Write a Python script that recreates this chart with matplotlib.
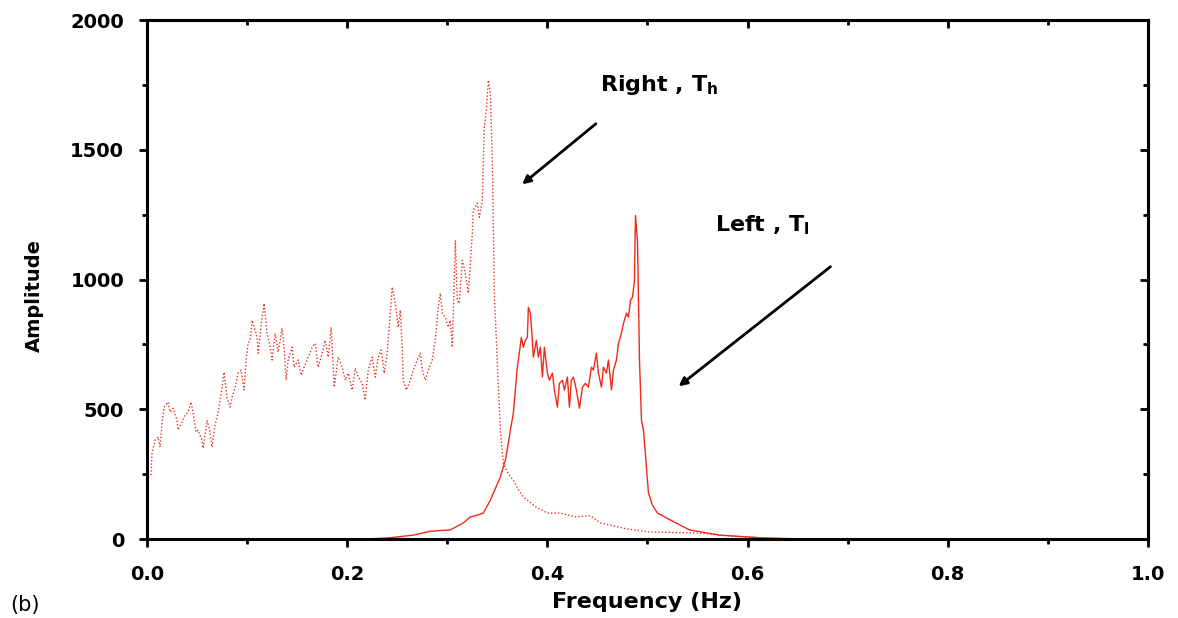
import numpy as np
import matplotlib.pyplot as plt
from matplotlib.ticker import MultipleLocator

plt.rcParams['font.family'] = ['DejaVu Sans']

# Right side, T_h (dotted trace)
freq_right = [0.004, 0.005, 0.008, 0.011, 0.013, 0.015, 0.017, 0.021, 0.023, 0.026,
              0.030, 0.031, 0.035, 0.038, 0.041, 0.044, 0.046, 0.049, 0.051, 0.055,
              0.056, 0.060, 0.063, 0.065, 0.068, 0.071, 0.073, 0.075, 0.077, 0.080,
              0.083, 0.085, 0.088, 0.091, 0.094, 0.097, 0.099, 0.101, 0.103, 0.105,
              0.110, 0.111, 0.115, 0.117, 0.120, 0.123, 0.125, 0.128, 0.131, 0.135,
              0.137, 0.139, 0.141, 0.145, 0.147, 0.151, 0.154, 0.157, 0.161, 0.165,
              0.168, 0.171, 0.175, 0.178, 0.181, 0.184, 0.187, 0.191, 0.195, 0.198,
              0.201, 0.205, 0.208, 0.211, 0.215, 0.218, 0.221, 0.225, 0.228, 0.231,
              0.234, 0.237, 0.240, 0.242, 0.245, 0.248, 0.251, 0.253, 0.255, 0.256,
              0.259, 0.262, 0.266, 0.270, 0.273, 0.275, 0.278, 0.281, 0.285, 0.288,
              0.291, 0.293, 0.295, 0.298, 0.301, 0.303, 0.305, 0.307, 0.308, 0.310,
              0.312, 0.315, 0.318, 0.321, 0.325, 0.326, 0.330, 0.332, 0.335, 0.336,
              0.337, 0.339, 0.341, 0.343, 0.345, 0.346, 0.347, 0.350, 0.353, 0.356,
              0.361, 0.366, 0.371, 0.376, 0.388, 0.400, 0.413, 0.428, 0.443, 0.453,
              0.478, 0.502, 0.527, 0.552, 0.582, 0.612, 0.652, 1.000]
amp_right = [246, 331, 381, 393, 354, 447, 508, 528, 489, 504,
             458, 420, 451, 478, 489, 528, 489, 412, 420, 381,
             350, 458, 412, 354, 439, 485, 535, 585, 643, 543,
             508, 547, 585, 639, 651, 574, 690, 754, 766, 843,
             777, 716, 855, 908, 793, 739, 690, 793, 720, 812,
             739, 612, 690, 739, 662, 690, 631, 662, 701, 739,
             754, 662, 716, 766, 701, 816, 585, 701, 662, 612,
             639, 574, 658, 624, 600, 535, 651, 701, 624, 701,
             728, 639, 716, 816, 971, 908, 816, 882, 739, 612,
             574, 600, 651, 690, 716, 651, 612, 651, 690, 766,
             893, 947, 870, 855, 816, 843, 739, 997, 1151, 921,
             908, 1074, 1024, 947, 1178, 1267, 1294, 1240, 1305, 1459,
             1587, 1652, 1768, 1718, 1459, 1201, 947, 677, 420, 292,
             250, 227, 190, 162, 125, 100, 100, 85, 90, 62,
             40, 27, 25, 23, 12, 5, 0, 0]

# Left side, T_l (solid trace)
freq_left = [0.000, 0.220, 0.243, 0.266, 0.283, 0.303, 0.316, 0.323, 0.330, 0.336,
             0.343, 0.353, 0.358, 0.361, 0.363, 0.366, 0.370, 0.371, 0.374, 0.376,
             0.378, 0.380, 0.381, 0.383, 0.385, 0.386, 0.389, 0.391, 0.393, 0.395,
             0.397, 0.400, 0.402, 0.405, 0.407, 0.410, 0.412, 0.415, 0.417, 0.420,
             0.422, 0.424, 0.426, 0.429, 0.432, 0.435, 0.438, 0.441, 0.444, 0.446,
             0.449, 0.451, 0.454, 0.456, 0.459, 0.461, 0.464, 0.466, 0.469, 0.471,
             0.474, 0.476, 0.479, 0.481, 0.483, 0.485, 0.487, 0.488, 0.490, 0.492,
             0.494, 0.496, 0.501, 0.505, 0.510, 0.523, 0.542, 0.572, 0.612, 0.652,
             1.000]
amp_left = [0, 0, 5, 15, 30, 35, 62, 85, 92, 100,
            150, 239, 304, 370, 420, 485, 662, 690, 777, 739,
            766, 777, 893, 870, 766, 701, 766, 701, 739, 624,
            739, 639, 612, 639, 574, 508, 600, 612, 574, 624,
            508, 612, 624, 574, 504, 585, 600, 585, 662, 651,
            716, 639, 585, 662, 639, 690, 574, 651, 690, 754,
            793, 831, 870, 855, 920, 932, 997, 1247, 1150, 690,
            458, 420, 177, 130, 100, 73, 35, 15, 5, 0,
            0]

x_ticks = [0.0, 0.2, 0.4, 0.6, 0.8, 1.0]
y_ticks = [0, 500, 1000, 1500, 2000]

fig = plt.figure(figsize=(11.78, 6.18), dpi=100)
ax = fig.add_axes([0.1248, 0.1278, 0.8497, 0.8398])

ax.plot(freq_right, amp_right, color='#ec3322', lw=1.0, ls=(0, (1, 1.5)))
ax.plot(freq_left, amp_left, color='#f02a1a', lw=1.0)

ax.set_xlim(0, 1.0)
ax.set_ylim(0, 2000)
ax.set_xticks(x_ticks)
ax.set_yticks(y_ticks)
ax.set_xticklabels(['%.1f' % v for v in x_ticks])
ax.xaxis.set_minor_locator(MultipleLocator(0.1))
ax.yaxis.set_minor_locator(MultipleLocator(250))

for s in ax.spines.values():
    s.set_linewidth(2.2)

ax.tick_params(which='major', direction='out', length=5.5, width=2, labelsize=14)
ax.tick_params(which='minor', direction='out', length=3.5, width=2)
ax.tick_params(axis='x', which='major', pad=13)
ax.tick_params(axis='y', which='major', pad=11)
for lab in ax.get_xticklabels() + ax.get_yticklabels():
    lab.set_fontweight('bold')

# top and right: ticks pointing inwards, no labels
top = ax.secondary_xaxis('top')
top.set_xticks(x_ticks)
top.xaxis.set_minor_locator(MultipleLocator(0.1))
top.tick_params(which='major', direction='in', length=5.5, width=2, labeltop=False)
top.tick_params(which='minor', direction='in', length=3.5, width=2)
top.spines['top'].set_linewidth(2.2)
right = ax.secondary_yaxis('right')
right.set_yticks(y_ticks)
right.yaxis.set_minor_locator(MultipleLocator(250))
right.tick_params(which='major', direction='in', length=5.5, width=2, labelright=False)
right.tick_params(which='minor', direction='in', length=3.5, width=2)
right.spines['right'].set_linewidth(2.2)

ax.set_xlabel('Frequency (Hz)', fontsize=16, fontweight='bold', va='top')
ax.xaxis.set_label_coords(0.5, -0.103)
ax.set_ylabel('Amplitude', fontsize=14, fontweight='bold')
ax.yaxis.set_label_coords(-0.103, 0.47)

ax.text(0.453, 1750, r'Right , T$_\mathregular{h}$', fontsize=16, fontweight='bold',
        va='center', ha='left')
ax.text(0.567, 1210, r'Left , T$_\mathregular{l}$', fontsize=16, fontweight='bold',
        va='center', ha='left')
arrow = dict(arrowstyle='-|>', color='black', lw=2, mutation_scale=12)
ax.annotate('', xy=(0.3726, 1360), xytext=(0.4506, 1607), arrowprops=arrow)
ax.annotate('', xy=(0.529, 582), xytext=(0.685, 1056), arrowprops=arrow)

fig.text(0.009, 0.012, '(b)', fontsize=15)

fig.savefig('out.png', dpi=100)
